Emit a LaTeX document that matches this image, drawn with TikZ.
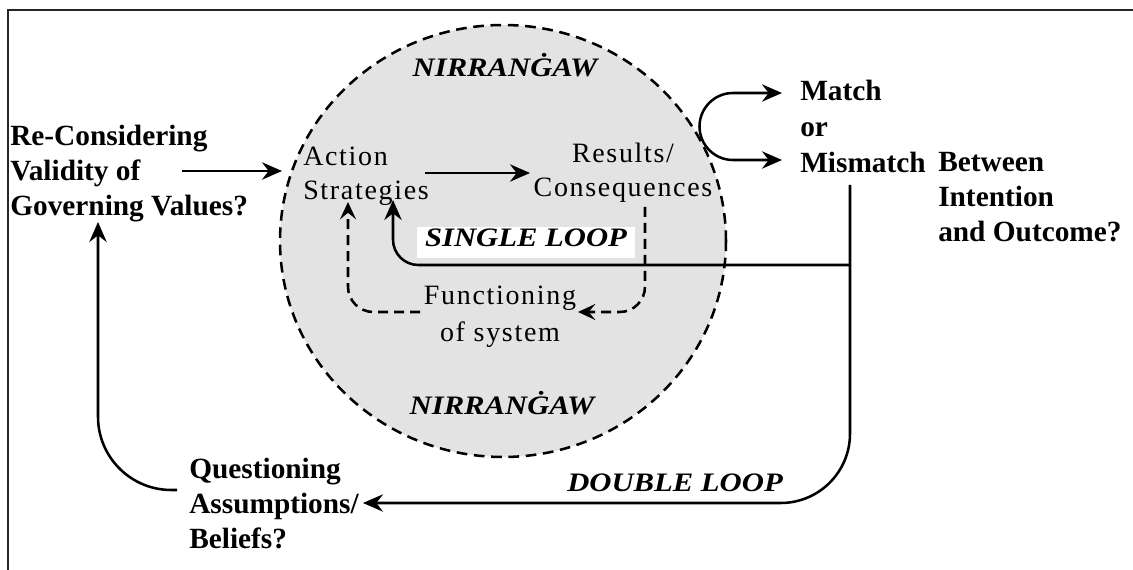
\documentclass[tikz,border=0pt]{standalone}
\usepackage{fontspec}
\setmainfont{Liberation Serif}
\newfontfamily\innerfont{Liberation Serif}[LetterSpace=6]
\newfontfamily\loopfont{Liberation Serif}[FakeStretch=1.15]
\usetikzlibrary{arrows.meta,shapes.geometric}
\definecolor{circfill}{RGB}{227,227,227}
\begin{document}
\begin{tikzpicture}[x=0.75pt,y=-0.75pt,
  bigtxt/.style={font=\fontsize{22}{26.25}\selectfont\bfseries, inner sep=0pt, align=left},
  intxt/.style={font=\innerfont\fontsize{21}{25.5}\selectfont, inner sep=0pt},
  looptxt/.style={font=\loopfont\fontsize{20}{24}\selectfont\bfseries\itshape, inner sep=0pt},
  arr/.style={line width=1.9pt, -{Stealth[length=15pt,width=13pt,inset=5pt]}},
  dasharr/.style={line width=1.9pt, dash pattern=on 7.5pt off 4.5pt, -{Stealth[length=13pt,width=12pt,inset=5pt]}},
  frame/.style={line width=1.5pt, black!85}
]
\useasboundingbox (0,0) rectangle (1133,570);
% frame
\draw[frame] (8,570) -- (8,10) -- (1133,10);
% circle
\node[ellipse, draw, fill=circfill, line width=1.9pt, dash pattern=on 8pt off 5pt,
      minimum width=334.5pt, minimum height=324pt, inner sep=0pt] (circ) at (503,241) {};
% texts
\node[bigtxt, anchor=north west] (reconsider) at (10,125) {Re-Considering\\Validity of\\Governing Values?};
\node[intxt, anchor=north west, align=left] (action) at (303,147) {Action\\Strategies};
\node[intxt, anchor=north, align=center] (results) at (623,143) {Results/\\Consequences};
\node[intxt, anchor=north, align=center, font=\innerfont\fontsize{21}{27.75}\selectfont] (func) at (500,286) {Functioning\\of system};
\node[bigtxt, anchor=north west, font=\fontsize{22}{27}\selectfont\bfseries] (match) at (800,80) {Match\\or\\Mismatch};
\node[bigtxt, anchor=north west] (between) at (938,152) {Between\\Intention\\and Outcome?};
\node[bigtxt, anchor=north west] (question) at (189,458) {Questioning\\Assumptions/\\Beliefs?};
\node[looptxt, anchor=base] (nirtop) at (505,77) {NIRRANĠAW};
\node[looptxt, anchor=base] (nirbot) at (502,415) {NIRRANĠAW};
\node[looptxt, fill=white, minimum width=163.5pt, minimum height=23.25pt, text height=0.66em, text depth=0pt] (single) at (526,242.5) {SINGLE LOOP};
\node[looptxt, text height=0.66em, text depth=0pt] (double) at (675,487) {DOUBLE LOOP};
% coordinates
\coordinate (a1s) at (182,171);
\coordinate (a1e) at (282,171);
\coordinate (a2s) at (425,173);
\coordinate (a2e) at (530,173);
\coordinate (dr1) at (645,207);
\coordinate (dr2) at (645,312);
\coordinate (dr3) at (578,312);
\coordinate (dl1) at (420,312);
\coordinate (dl2) at (348,312);
\coordinate (dl3) at (348,202);
\coordinate (s1) at (850,265);
\coordinate (s2) at (393,265);
\coordinate (s3) at (393,200);
\coordinate (v1) at (850,185);
\coordinate (v2) at (850,503);
\coordinate (v3) at (363,503);
\coordinate (l1) at (177,490);
\coordinate (l2) at (98,490);
\coordinate (l3) at (98,222);
\coordinate (m1) at (782,93);
\coordinate (m2) at (733,93);
\coordinate (m3) at (782,160);
% connectors
\draw[arr] (a1s) -- (a1e);
\draw[arr] (a2s) -- (a2e);
\draw[dasharr, rounded corners=19pt] (dr1) -- (dr2) -- (dr3);
\draw[dasharr, rounded corners=19pt] (dl1) -- (dl2) -- (dl3);
\draw[arr, rounded corners=19pt] (s1) -- (s2) -- (s3);
\draw[arr, rounded corners=52pt] (v1) -- (v2) -- (v3);
\draw[arr, rounded corners=55pt] (l1) -- (l2) -- (l3);
\draw[line width=1.9pt, {Stealth[length=15pt,width=13pt,inset=5pt]}-{Stealth[length=15pt,width=13pt,inset=5pt]}]
  (m1) -- (m2) arc[start angle=270, end angle=90, radius=33.5] -- (m3);
\end{tikzpicture}
\end{document}
